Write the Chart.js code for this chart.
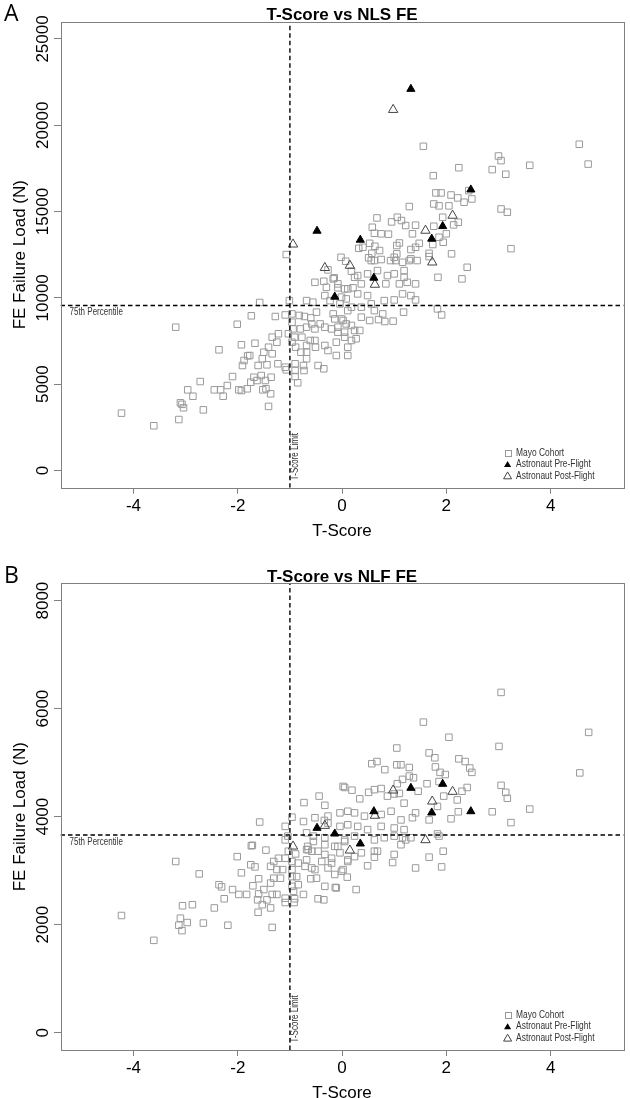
<!DOCTYPE html>
<html><head><meta charset="utf-8">
<script src="https://cdn.jsdelivr.net/npm/chart.js@4.4.1/dist/chart.umd.min.js"></script>
<style>
html,body{margin:0;padding:0;background:#fff;width:630px;height:1098px;overflow:hidden}
.panel{position:absolute;left:0;width:630px}
#pa{top:0;height:545px}
#pb{top:545px;height:553px}
canvas{display:block}
</style></head><body>
<div class="panel" id="pa"><canvas id="ca" width="630" height="545"></canvas></div>
<div class="panel" id="pb"><canvas id="cb" width="630" height="553"></canvas></div>
<script>
// ---------- data ----------
const xTicks = [-4, -2, 0, 2, 4];
const nlsYTicks = [0, 5000, 10000, 15000, 20000, 25000];
const nlfYTicks = [0, 2000, 4000, 6000, 8000];
const legendNames = ['Mayo Cohort', 'Astronaut Pre-Flight', 'Astronaut Post-Flight'];
const tScoreLimit = -1;
const nlsP75 = 9560;
const nlfP75 = 3660;

const astroPreT  = [1.32, 2.47, -0.48, 0.35, 1.93, 1.72, 0.61, -0.14];
const nlsPreLoad = [22100, 16270, 13880, 13360, 14150, 13420, 11160, 10060];
const nlfPreLoad = [4531, 4098, 3790, 3500, 4605, 4074, 4098, 3685];

const astroPostT  = [0.98, -0.94, 2.12, 1.60, -0.33, 0.15, 1.73, 0.63];
const nlsPostLoad = [20900, 13100, 14770, 13900, 11740, 11870, 12060, 10770];
const nlfPostLoad = [4487, 3450, 4463, 3568, 3833, 3376, 4283, 4020];

const nlsMayoT = [
-1.07,-1.01,-1.58,-0.68,-0.56,-0.52,-0.35,-1.74,-1.28,-1.09,
-3.19,-2.01,-0.96,-0.82,-0.72,-0.60,-0.49,-0.96,-0.94,-1.03,
-1.22,-1.34,-1.25,-1.41,-1.50,-1.34,-1.53,-1.67,-1.93,-2.36,
-1.77,-1.81,-1.88,-1.91,-1.61,-1.44,-1.23,-1.09,-0.90,-0.74,
-0.73,-0.90,-1.07,-0.46,-0.35,-0.90,-0.85,-0.68,-0.68,-0.79,
-0.89,-0.96,-0.91,-0.77,-0.68,-0.61,-0.51,-0.52,-0.33,-0.27,
-0.11,0.11,-0.11,0.11,0.18,-2.10,-2.20,-1.98,-1.93,-1.82,
-1.75,-1.69,-1.63,-1.55,-1.47,-1.36,-1.52,-1.46,-1.37,-1.41,
-2.45,-2.33,-2.28,-2.72,-2.96,-2.86,-3.10,-3.07,-3.04,-2.66,
-3.13,-3.61,-4.23,
1.56,3.00,3.05,3.60,2.24,2.88,3.14,1.75,1.80,1.90,
2.09,2.22,2.34,2.49,2.43,3.05,3.17,1.29,1.76,1.86,
2.05,0.67,0.95,1.06,1.14,1.22,1.41,0.58,0.62,0.75,
0.89,1.35,1.76,1.93,2.14,2.23,2.00,1.86,1.94,1.74,
0.53,0.63,0.32,0.40,0.72,1.10,1.05,1.48,1.41,1.32,
1.05,0.57,1.67,1.67,2.10,3.24,-0.02,0.07,0.51,0.62,
0.75,0.93,1.03,1.16,1.32,1.44,2.40,1.84,2.30,0.18,
0.30,0.49,0.87,1.00,1.19,1.19,-0.27,-0.15,
1.41,1.25,1.32,1.41,1.16,1.10,1.00,1.18,1.83,1.91,
0.98,0.82,0.70,0.53,0.37,0.78,0.62,0.37,0.11,0.34,
0.27,0.05,-0.08,0.18,0.02,-0.14,0.24,0.37,0.11,-0.08,
-0.01,0.30,0.49,0.81,0.56,0.84,0.68,0.56,1.00,1.29,
-0.17,-0.08,0.05,0.21,-0.30,-0.33,-0.23,-0.04,0.08,0.18,
-0.17,-0.01,0.08,-0.33,-0.52,-0.42,-0.20,-0.08,0.24,0.05,
-0.58,-0.68,-0.80,
4.55,4.72];
const nlsMayoLoad = [
12510,9840,9730,9840,9750,10900,10960,8960,8920,9010,
8300,8470,9070,8980,8920,8840,9170,8590,8200,7920,
7920,7720,7430,7140,6850,6760,6470,7370,7280,6990,
6660,6640,6370,6080,6080,6120,6180,5980,6180,6080,
5790,5790,5830,6080,5890,5440,5080,6470,6850,6850,
7140,7430,7720,7720,7240,7530,7140,7530,7240,6950,
6660,6660,7430,7140,7530,5440,4920,4670,4630,4730,
5110,5400,5210,5500,5210,5400,4670,4730,4440,3710,
4670,4670,4300,5150,4670,4300,3920,3830,3630,3510,
2950,2590,3320,
18780,18220,17950,17680,17540,17430,17160,17080,16080,16080,
15960,15790,15540,15730,16210,15150,14960,15290,15440,15330,
15330,14630,14400,14670,14480,14190,14210,14090,13740,13710,
13690,13710,14150,14670,14230,14380,13710,13510,13220,13090,
13160,12990,12870,12930,12740,13180,13030,13160,12930,12800,
12550,12580,12580,12390,12550,12850,12350,12120,12320,12160,
12220,12160,12160,12060,12260,12160,11770,11190,11100,11540,
11290,11390,11290,11390,11580,11190,11620,11160,
10810,10900,10130,9880,10230,10810,9880,9170,9360,9010,
8650,8630,8740,8690,8880,9070,9260,9460,9260,8110,
7630,8010,8300,8400,8690,8780,11190,10810,10520,10810,
10040,10230,10130,9840,9650,10810,11580,12160,12350,12160,
11100,10580,10520,10580,10610,10130,9840,9650,9940,9460,
9070,8780,8490,8300,8200,8490,8200,8010,8110,7720,
8490,8300,8200,
18900,17750];

const nlfMayoT = [
3.05,1.56,2.05,3.01,1.05,1.67,1.78,2.24,2.36,2.45,
2.49,1.79,1.88,1.98,0.57,0.67,0.82,1.05,1.13,1.29,
1.29,1.37,1.16,1.06,1.63,1.86,0.02,0.05,0.19,-0.44,
-0.73,-0.33,0.34,0.51,0.62,0.75,0.87,1.00,1.10,1.19,
1.46,2.30,2.40,2.21,1.95,1.83,2.09,2.23,2.88,3.05,
3.14,3.17,3.60,3.24,-1.58,-1.09,-0.04,0.11,0.24,0.43,
0.75,0.94,1.13,1.35,1.41,1.67,-0.27,-0.52,-0.27,-0.04,
0.11,0.30,0.49,0.75,1.00,1.19,1.83,1.86,-0.68,-0.55,
-0.33,0.05,0.24,0.62,0.81,1.00,1.16,1.32,-1.72,-1.46,
-0.65,-0.33,-0.14,-0.04,0.62,1.00,1.67,1.94,
1.91,1.41,0.97,0.49,0.62,0.68,0.37,0.11,-0.01,-0.14,
0.10,-0.11,0.27,-0.20,1.13,1.22,
-3.19,-2.74,-1.74,-2.01,-1.93,-1.75,-1.67,-2.36,-2.31,-2.10,
-2.26,-1.98,-1.83,-1.71,-1.60,-1.50,-1.37,-1.31,-1.25,-1.37,
-1.31,-1.22,-1.09,-1.14,-1.18,-1.60,-1.62,-1.53,-1.61,-1.37,
-1.44,-1.34,-1.25,-1.09,-1.09,-0.91,-0.92,-0.74,-1.34,-0.96,
-0.93,-0.84,-0.96,-0.87,-0.96,-0.84,-0.96,-0.71,-0.58,-0.49,
-0.60,-0.46,-0.35,-0.33,-0.13,-0.27,-0.39,-0.52,-0.68,-0.58,
-0.68,-0.46,-0.33,-0.20,-0.08,0.05,0.11,0.02,0.24,-0.55,
-0.66,-1.09,-1.04,-1.03,-0.89,-0.74,-0.34,-0.96,-3.06,-2.87,
-2.45,-2.19,-3.10,-2.97,-3.13,-3.07,-2.66,-4.23,-3.61,
4.56,4.73];
const nlfMayoLoad = [
6300,5750,5470,5300,5270,5180,5090,5070,5020,4900,
4820,4920,4820,4780,4980,5020,4870,4960,4960,4910,
4750,4720,4690,4610,4610,4650,4560,4540,4490,4380,
4260,4210,4330,4450,4500,4520,4380,4420,4430,4250,
4470,4470,4540,4310,4380,4190,3960,4090,4090,4580,
4450,4340,4140,3890,3900,3820,4070,4100,4070,4010,
4040,4100,3940,3980,4070,3940,4010,3980,3880,3820,
3850,3820,3760,3820,3790,3760,3680,3640,3700,3640,
3610,3570,3640,3570,3610,3640,3610,3610,3470,3380,
3390,3480,3450,3330,3360,3300,3250,3360,
3070,3050,3150,3090,3250,3360,3330,3200,2990,2930,
2880,2680,2650,3140,3480,3570,
3170,2940,3460,3260,2960,3110,3070,2740,2700,2650,
2480,2560,2560,2720,2850,2650,2770,2860,3020,3080,
3170,3230,3230,3020,2860,2570,2460,2370,2230,2310,
2460,2560,2560,2490,2410,2480,2410,2560,1950,2710,
2620,2740,2890,2890,3020,3140,3170,3080,3050,2860,
2850,2480,2460,2710,2690,3050,3170,3020,3200,3360,
3390,3360,3300,3230,3450,3540,3170,3020,3260,3540,
3450,3570,3640,3360,3310,3910,3930,3990,2350,2370,
2310,1990,2120,2040,1990,1890,2030,2170,1710,
4810,5560];

// ---------- styles ----------
const BOX = '#808080';
const BIG = '"Liberation Sans", Arial, sans-serif';
const SMALL = '"Liberation Sans", Arial, sans-serif';
const NARROW = 0.8;
const xMin = -5.4, xMax = 5.4;

function pts(xs, ys) { return xs.map((v, i) => ({ x: v, y: ys[i] })); }

function tri(ctx, x, y, r, fill) {
  ctx.beginPath();
  ctx.moveTo(x, y - r);
  ctx.lineTo(x + r * 0.866, y + r * 0.5);
  ctx.lineTo(x - r * 0.866, y + r * 0.5);
  ctx.closePath();
  if (fill) { ctx.fillStyle = '#000'; ctx.fill(); }
  else { ctx.strokeStyle = '#444'; ctx.lineWidth = 1; ctx.stroke(); }
}

function narrowText(ctx, text, x, y, rot) {
  ctx.save(); ctx.translate(x, y);
  if (rot) ctx.rotate(rot);
  ctx.scale(NARROW, 1);
  ctx.fillText(text, 0, 0);
  ctx.restore();
}

const decor = {
  id: 'decor',
  afterDraw(chart) {
    const o = chart.options.plugins.decor;
    const { ctx, chartArea: a } = chart;
    const xs = chart.scales.x, ys = chart.scales.y;
    const cx = (a.left + a.right) / 2;
    ctx.save();
    ctx.strokeStyle = BOX; ctx.lineWidth = 1;
    ctx.strokeRect(Math.round(a.left) + 0.5, Math.round(a.top) + 0.5,
                   Math.round(a.right - a.left), Math.round(a.bottom - a.top));
    ctx.fillStyle = '#000';
    ctx.textBaseline = 'alphabetic';
    // title
    ctx.font = 'bold 17px ' + BIG; ctx.textAlign = 'center';
    ctx.fillText(o.title, cx, a.top - 1.5);
    // panel letter
    ctx.font = '23px "Open Sans", sans-serif'; ctx.textAlign = 'left';
    ctx.fillText(o.letter, 4, a.top - 0.5);
    // x tick labels
    ctx.font = '17px ' + BIG; ctx.textAlign = 'center';
    xTicks.forEach(v => ctx.fillText(String(v), xs.getPixelForValue(v), a.bottom + 23));
    // y tick labels (rotated)
    o.yTicks.forEach(v => {
      ctx.save(); ctx.translate(48.3, ys.getPixelForValue(v)); ctx.rotate(-Math.PI / 2);
      ctx.textAlign = 'center'; ctx.fillText(String(v), 0, 0); ctx.restore();
    });
    // axis titles
    ctx.font = '17px ' + BIG; ctx.textAlign = 'center';
    ctx.fillText(o.xTitle, cx, a.bottom + 48.3);
    ctx.save(); ctx.translate(25, (a.top + a.bottom) / 2); ctx.rotate(-Math.PI / 2);
    ctx.fillText(o.yTitle, 0, 0); ctx.restore();
    // reference line labels
    ctx.fillStyle = '#333'; ctx.font = '10px ' + SMALL;
    ctx.textAlign = 'left';
    narrowText(ctx, o.pLabel, a.left + 9, ys.getPixelForValue(o.p75) + 10);
    narrowText(ctx, o.tLabel, xs.getPixelForValue(tScoreLimit) + 8.5, a.bottom - 7.5, -Math.PI / 2);
    // legend
    const lx = a.right - 116, rows = [a.bottom - 35, a.bottom - 23.5, a.bottom - 12];
    ctx.strokeStyle = '#999'; ctx.lineWidth = 1;
    ctx.strokeRect(Math.round(lx - 3) + 0.5, Math.round(rows[0] - 3) + 0.5, 6, 6);
    tri(ctx, lx, rows[1] + 0.8, 4.1, true);
    tri(ctx, lx, rows[2] + 0.8, 4.6, false);
    ctx.fillStyle = '#333'; ctx.textBaseline = 'middle'; ctx.font = '10.5px ' + SMALL;
    legendNames.forEach((n, i) => narrowText(ctx, n, lx + 8.5, rows[i]));
    ctx.restore();
  }
};

function makeChart(id, cfg) {
  const canvas = document.getElementById(id);
  const H = canvas.height;
  return new Chart(canvas, {
    type: 'scatter',
    data: {
      datasets: [
        { type: 'line', label: 'T-Score Limit', data: [{ x: tScoreLimit, y: cfg.yMin }, { x: tScoreLimit, y: cfg.yMax }],
          borderColor: '#000', borderWidth: 1.4, borderDash: [4.5, 3], pointRadius: 0, fill: false },
        { type: 'line', label: '75th Percentile', data: [{ x: xMin, y: cfg.p75 }, { x: xMax, y: cfg.p75 }],
          borderColor: '#000', borderWidth: 1.4, borderDash: [4.5, 3], pointRadius: 0, fill: false },
        { label: legendNames[1], data: pts(astroPreT, cfg.pre), pointStyle: 'triangle', pointRadius: 4.7,
          backgroundColor: '#000', borderColor: '#000', borderWidth: 1 },
        { label: legendNames[2], data: pts(astroPostT, cfg.post), pointStyle: 'triangle', pointRadius: 5.4,
          backgroundColor: 'rgba(255,255,255,0)', borderColor: '#444', borderWidth: 1 },
        { label: legendNames[0], data: pts(cfg.mayoT, cfg.mayo), pointStyle: 'rect', pointRadius: 4.6,
          backgroundColor: 'rgba(255,255,255,0)', borderColor: '#9a9a9a', borderWidth: 1 }
      ]
    },
    options: {
      responsive: false, animation: false, devicePixelRatio: 1,
      layout: { padding: { top: cfg.plotTop, right: 1.5, left: 0, bottom: 0 } },
      plugins: {
        legend: { display: false }, tooltip: { enabled: false }, title: { display: false },
        decor: cfg.decor
      },
      scales: {
        x: {
          type: 'linear', min: xMin, max: xMax,
          afterBuildTicks: s => { s.ticks = xTicks.map(v => ({ value: v })); },
          afterFit: s => { s.height = H - cfg.plotBottom; },
          grid: { display: true, drawOnChartArea: false, drawTicks: true, tickLength: 6, color: BOX },
          border: { display: false },
          ticks: { display: false }
        },
        y: {
          type: 'linear', min: cfg.yMin, max: cfg.yMax,
          afterBuildTicks: s => { s.ticks = cfg.decor.yTicks.map(v => ({ value: v })); },
          afterFit: s => { s.width = 60.5; },
          grid: { display: true, drawOnChartArea: false, drawTicks: true, tickLength: 6.5, color: BOX },
          border: { display: false },
          ticks: { display: false }
        }
      }
    },
    plugins: [decor]
  });
}

makeChart('ca', {
  plotTop: 21.7, plotBottom: 487.7, yMin: -1000, yMax: 26000, p75: nlsP75,
  mayoT: nlsMayoT, mayo: nlsMayoLoad, pre: nlsPreLoad, post: nlsPostLoad,
  decor: { title: 'T-Score vs NLS FE', letter: 'A', yTicks: nlsYTicks, xTitle: 'T-Score',
           yTitle: 'FE Failure Load (N)', pLabel: '75th Percentile', tLabel: 'T-Score Limit', p75: nlsP75 }
});
makeChart('cb', {
  plotTop: 38.3, plotBottom: 505, yMin: -320, yMax: 8320, p75: nlfP75,
  mayoT: nlfMayoT, mayo: nlfMayoLoad, pre: nlfPreLoad, post: nlfPostLoad,
  decor: { title: 'T-Score vs NLF FE', letter: 'B', yTicks: nlfYTicks, xTitle: 'T-Score',
           yTitle: 'FE Failure Load (N)', pLabel: '75th Percentile', tLabel: 'T-Score Limit', p75: nlfP75 }
});
</script>
</body></html>
